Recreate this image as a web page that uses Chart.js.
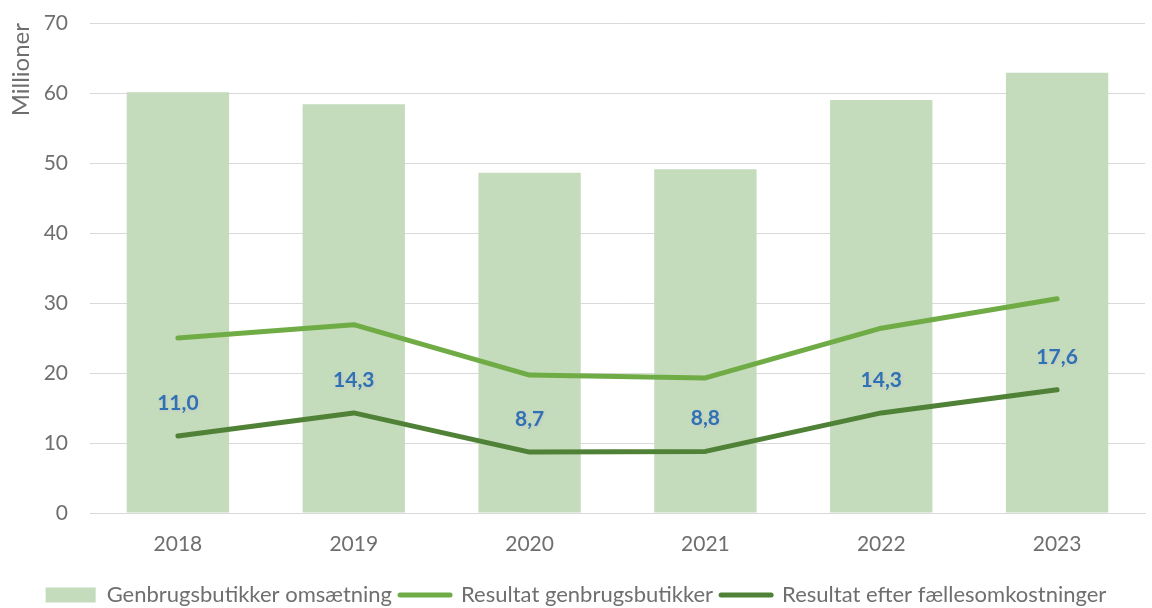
<!DOCTYPE html>
<html><head><meta charset="utf-8">
<script src="https://cdn.jsdelivr.net/npm/chart.js@4/dist/chart.umd.min.js"></script>
<style>html,body{margin:0;padding:0;background:#fff}#wrap{width:1152px;height:608px}</style>
</head><body><div id="wrap"><canvas id="c" width="1152" height="608"></canvas></div>
<script>
const categories = ['2018','2019','2020','2021','2022','2023'];
const omsaetning = [60.1, 58.4, 48.6, 49.1, 59.0, 62.9];
const resultatButikker = [25.0, 26.9, 19.7, 19.3, 26.4, 30.6];
const resultatEfter = [11.0, 14.3, 8.7, 8.8, 14.3, 17.6];
const seriesNames = ['Genbrugsbutikker omsætning','Resultat genbrugsbutikker','Resultat efter fællesomkostninger'];
const yTitle = 'Millioner';

const FONT = 'Lato, "Open Sans", sans-serif';
const GREY = '#6f6f6f';

const labelPlugin = {
  id: 'valueLabels',
  afterDatasetsDraw(chart) {
    const ctx = chart.ctx;
    const meta = chart.getDatasetMeta(0);
    ctx.save();
    ctx.font = 'bold 21px ' + FONT;
    ctx.fillStyle = '#2f72b3';
    ctx.textAlign = 'center';
    ctx.textBaseline = 'middle';
    ctx.shadowColor = 'rgba(200,200,200,0.9)';
    ctx.shadowBlur = 3;
    ctx.shadowOffsetX = 1;
    ctx.shadowOffsetY = 1;
    meta.data.forEach((pt, i) => {
      const v = resultatEfter[i].toFixed(1).replace('.', ',');
      ctx.fillText(v, pt.x, pt.y - 33);
    });
    ctx.restore();
  }
};

new Chart(document.getElementById('c'), {
  data: {
    labels: categories,
    datasets: [
      { type: 'line', label: seriesNames[2], data: resultatEfter, borderColor: '#4f8136', backgroundColor: '#4f8136', borderWidth: 5, pointRadius: 0, tension: 0, order: 1, borderCapStyle: 'round', borderJoinStyle: 'round' },
      { type: 'line', label: seriesNames[1], data: resultatButikker, borderColor: '#70ac46', backgroundColor: '#70ac46', borderWidth: 5, pointRadius: 0, tension: 0, order: 2, borderCapStyle: 'round', borderJoinStyle: 'round' },
      { type: 'bar', label: seriesNames[0], data: omsaetning, backgroundColor: '#c4dbbc', borderWidth: 0, categoryPercentage: 0.6, barPercentage: 0.97, order: 3 }
    ]
  },
  options: {
    responsive: false,
    animation: false,
    layout: { padding: { top: 23, right: 7, left: 7, bottom: -8 } },
    scales: {
      x: {
        afterFit(s) { s.height = 63; s.paddingLeft = 0; s.paddingRight = 0; },
        grid: { display: false, drawTicks: false },
        border: { display: true, color: '#d9d9d9', width: 1 },
        ticks: { color: GREY, font: { family: FONT, size: 21 }, padding: 19 }
      },
      y: {
        min: 0, max: 70,
        afterFit(s) { s.width = 83; s.paddingTop = 0; s.paddingBottom = 0; },
        grid: { color: '#d9d9d9', lineWidth: 1, drawTicks: false },
        border: { display: false },
        ticks: { stepSize: 10, color: GREY, font: { family: FONT, size: 21 }, padding: 22 },
        title: { display: true, text: yTitle, align: 'end', color: GREY, font: { family: FONT, size: 24 }, padding: { top: 0, bottom: 2 } }
      }
    },
    plugins: {
      legend: {
        position: 'bottom',
        labels: {
          color: GREY,
          font: { family: FONT, size: 22 },
          usePointStyle: true,
          pointStyleWidth: 50,
          boxHeight: 15,
          padding: 8,
          generateLabels(chart) {
            const ds = chart.data.datasets;
            return [2, 1, 0].map(i => ({
              text: ds[i].label,
              datasetIndex: i,
              fillStyle: ds[i].type === 'bar' ? ds[i].backgroundColor : ds[i].borderColor,
              strokeStyle: ds[i].type === 'bar' ? ds[i].backgroundColor : ds[i].borderColor,
              lineWidth: ds[i].type === 'bar' ? 0 : 5,
              lineCap: 'round',
              pointStyle: ds[i].type === 'bar' ? 'rect' : 'line',
              fontColor: GREY,
              hidden: false
            }));
          }
        }
      },
      tooltip: { enabled: false }
    }
  },
  plugins: [labelPlugin]
});
</script>
</body></html>
